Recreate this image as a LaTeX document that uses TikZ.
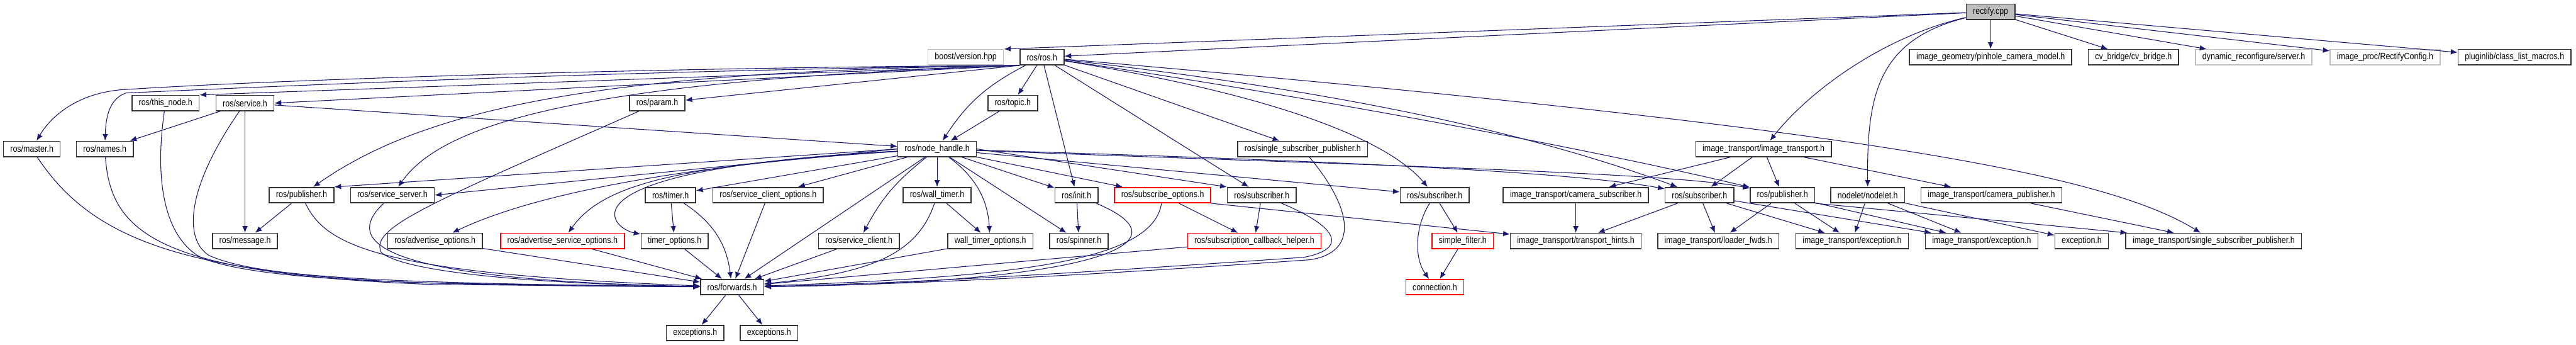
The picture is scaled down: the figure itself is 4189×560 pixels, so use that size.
\documentclass[tikz,border=0pt]{standalone}
\usepackage{fontspec}
\setmainfont{Liberation Sans}[FakeStretch=0.85]
\usetikzlibrary{arrows.meta}
\definecolor{edgeblue}{HTML}{191970}
\definecolor{framegray}{HTML}{BFBFBF}

\begin{document}
\begin{tikzpicture}[
    x=1pt, y=-1pt,
    >={Latex[length=11pt,width=9pt]},
    box/.style={
        draw=black!80,
        line width=1.6pt,
        minimum height=25pt,
        inner xsep=11pt,
        inner ysep=0pt,
        font=\fontsize{15}{17}\selectfont
    },
    redbox/.style={box, draw=red},
    graybox/.style={box, draw=framegray},
    arr/.style={->, line width=1.1pt, draw=edgeblue}
]
    \useasboundingbox (0,0) rectangle (4189,560);

    % top row
    \node[box, fill=framegray] (rectify) at (3237,19) {rectify.cpp};

    \node[graybox] (boost) at (1570.5,93) {boost/version.hpp};
    \node[box] (ros) at (1694.4,93) {ros/ros.h};
    \node[box] (pinhole) at (3237,93) {image\_geometry/pinhole\_camera\_model.h};
    \node[box] (cvbridge) at (3469.3,93) {cv\_bridge/cv\_bridge.h};
    \node[graybox] (dynrec) at (3665,93) {dynamic\_reconfigure/server.h};
    \node[graybox] (rectcfg) at (3878.6,93) {image\_proc/RectifyConfig.h};
    \node[box] (pluginlib) at (4089,93) {pluginlib/class\_list\_macros.h};

    \node[box] (thisnode) at (269.2,167.5) {ros/this\_node.h};
    \node[box] (service) at (398.4,167.5) {ros/service.h};
    \node[box] (param) at (1068.8,167.5) {ros/param.h};
    \node[box] (topic) at (1646.8,167.5) {ros/topic.h};

    \node[box] (master) at (51.8,242) {ros/master.h};
    \node[box] (names) at (170.5,242) {ros/names.h};
    \node[box] (nodehandle) at (1523.9,242) {ros/node\_handle.h};
    \node[box] (sspub) at (2118.3,242) {ros/single\_subscriber\_publisher.h};
    \node[box] (imgtrans) at (2867.8,242) {image\_transport/image\_transport.h};

    % middle rows
    \node[box] (publisher) at (490.4,317) {ros/publisher.h};
    \node[box] (srvserver) at (638.2,317) {ros/service\_server.h};
    \node[box] (timer) at (1090.3,317) {ros/timer.h};
    \node[box] (srvclientopts) at (1249,317) {ros/service\_client\_options.h};
    \node[box] (walltimer) at (1523.9,317) {ros/wall\_timer.h};
    \node[box] (init) at (1750.6,317) {ros/init.h};
    \node[redbox] (subopts) at (1890.6,317) {ros/subscribe\_options.h};
    \node[box] (subscrA) at (2051.8,317) {ros/subscriber.h};
    \node[box] (subscrB) at (2333,317) {ros/subscriber.h};
    \node[box] (camsub) at (2562.5,317) {image\_transport/camera\_subscriber.h};
    \node[box] (subscrC) at (2763.7,317) {ros/subscriber.h};
    \node[box] (pubB) at (2898.6,317) {ros/publisher.h};
    \node[box] (nodelet) at (3037.2,317) {nodelet/nodelet.h};
    \node[box] (campub) at (3238.3,317) {image\_transport/camera\_publisher.h};

    \node[box] (message) at (398.4,391.5) {ros/message.h};
    \node[box] (advopts) at (707.4,391.5) {ros/advertise\_options.h};
    \node[redbox] (advsrvopts) at (914.6,391.5) {ros/advertise\_service\_options.h};
    \node[box] (timeropts) at (1097,391.5) {timer\_options.h};
    \node[box] (srvclient) at (1396.8,391.5) {ros/service\_client.h};
    \node[box] (walltimeropts) at (1610.5,391.5) {wall\_timer\_options.h};
    \node[box] (spinner) at (1754.6,391.5) {ros/spinner.h};
    \node[redbox] (subcb) at (2039.7,391.5) {ros/subscription\_callback\_helper.h};
    \node[redbox] (simplefilter) at (2378.6,391.5) {simple\_filter.h};
    \node[box] (hints) at (2562.5,391.5) {image\_transport/transport\_hints.h};
    \node[box] (loader) at (2794.3,391.5) {image\_transport/loader\_fwds.h};
    \node[box] (itexcA) at (3011.8,391.5) {image\_transport/exception.h};
    \node[box] (itexcB) at (3222.5,391.5) {image\_transport/exception.h};
    \node[box] (exception) at (3385.1,391.5) {exception.h};
    \node[box] (itsspub) at (3599.8,391.5) {image\_transport/single\_subscriber\_publisher.h};

    % bottom rows
    \node[box] (forwards) at (1190.6,466.3) {ros/forwards.h};
    \node[redbox] (connection) at (2333.3,466.3) {connection.h};

    \node[box] (excA) at (1130.4,541) {exceptions.h};
    \node[box] (excB) at (1250.5,541) {exceptions.h};

    % rectify.cpp
    \draw[arr] (rectify) -- (boost.north east);
    \draw[arr] (rectify) -- (ros);
    \draw[arr] (rectify) -- (pinhole);
    \draw[arr] (rectify) -- (cvbridge);
    \draw[arr] (rectify) -- (dynrec);
    \draw[arr] (rectify) -- (rectcfg);
    \draw[arr] (rectify) -- (pluginlib);
    \draw[arr] (rectify) .. controls (3060,60) and (2940,150) .. (imgtrans);
    \draw[arr] (rectify) .. controls (3050,65) and (3036,160) .. (nodelet);

    % ros/ros.h
    \draw[arr] (ros.south west) .. controls (1000,110) and (400,132) .. (195,146)
        .. controls (130,152) and (85,185) .. (master);
    \draw[arr] (ros.south west) .. controls (1000,115) and (500,138) .. (205,151)
        .. controls (178,160) and (172,190) .. (names);
    \draw[arr] (ros.south west) -- (thisnode.north east);
    \draw[arr] (ros.south west) -- (service.east);
    \draw[arr] (ros.south west) -- (param);
    \draw[arr] (ros.south west) .. controls (1000,115) and (700,170) .. (publisher);
    \draw[arr] (ros.south west) .. controls (950,130) and (720,200) .. (srvserver);
    \draw[arr] (ros) to[bend right=15] (nodehandle);
    \draw[arr] (ros) -- (topic);
    \draw[arr] (ros) -- (init);
    \draw[arr] (ros) -- (subscrA);
    \draw[arr] (ros) -- (sspub);
    \draw[arr] (ros) .. controls (2050,150) and (2250,220) .. (subscrB);
    \draw[arr] (ros) .. controls (2200,150) and (2500,220) .. (subscrC);
    \draw[arr] (ros) .. controls (2150,160) and (2600,245) .. (pubB);
    \draw[arr] (ros) .. controls (3000,205) and (3420,280) .. (itsspub);

    \draw[arr] (topic) -- (nodehandle);
    \draw[arr] (service) -- (nodehandle);
    \draw[arr] (service) -- (names);
    \draw[arr] (service) -- (message);

    % ros/node_handle.h
    \draw[arr] (nodehandle.west) -- (publisher.north east);
    \draw[arr] (nodehandle.west) -- (srvserver.east);
    \draw[arr] (nodehandle) .. controls (1200,262) and (900,300) .. (advopts);
    \draw[arr] (nodehandle) .. controls (1100,268) and (980,300) .. (advsrvopts);
    \draw[arr] (nodehandle) .. controls (900,275) and (990,370) .. (timeropts);
    \draw[arr] (nodehandle) -- (timer);
    \draw[arr] (nodehandle) -- (srvclientopts);
    \draw[arr] (nodehandle) -- (forwards);
    \draw[arr] (nodehandle) to[bend right=12] (srvclient);
    \draw[arr] (nodehandle) -- (walltimer);
    \draw[arr] (nodehandle) to[bend left=25] (walltimeropts);
    \draw[arr] (nodehandle) -- (spinner);
    \draw[arr] (nodehandle) -- (init);
    \draw[arr] (nodehandle) -- (subopts);
    \draw[arr] (nodehandle.east) -- (subscrA.north west);
    \draw[arr] (nodehandle) -- (subscrB);
    \draw[arr] (nodehandle) .. controls (2200,262) and (2560,280) .. (subscrC);
    \draw[arr] (nodehandle) .. controls (2200,268) and (2720,280) .. (pubB);

    % into ros/forwards.h
    \draw[arr] (master) .. controls (150,390) and (300,445) .. (700,460) -- (forwards);
    \draw[arr] (names) .. controls (180,380) and (260,445) .. (700,462) -- (forwards);
    \draw[arr] (thisnode) .. controls (250,300) and (270,390) .. (330,420)
        .. controls (420,452) and (600,463) .. (forwards);
    \draw[arr] (service) .. controls (300,310) and (300,390) .. (340,415)
        .. controls (420,450) and (600,460) .. (forwards);
    \draw[arr] (publisher) .. controls (530,400) and (620,445) .. (forwards);
    \draw[arr] (srvserver) .. controls (560,390) and (600,455) .. (forwards);
    \draw[arr] (param) .. controls (700,330) and (600,370) .. (620,410)
        .. controls (660,445) and (900,462) .. (forwards);
    \draw[arr] (advopts) -- (forwards);
    \draw[arr] (advsrvopts) -- (forwards);
    \draw[arr] (timeropts) -- (forwards);
    \draw[arr] (timer) to[bend left=25] (forwards);
    \draw[arr] (srvclientopts) -- (forwards);
    \draw[arr] (srvclient) -- (forwards);
    \draw[arr] (walltimer) .. controls (1490,420) and (1400,445) .. (forwards);
    \draw[arr] (walltimeropts) -- (forwards);
    \draw[arr] (init) .. controls (1950,400) and (1750,460) .. (forwards);
    \draw[arr] (subopts) .. controls (1875,425) and (1650,450) .. (forwards);
    \draw[arr] (subscrA) .. controls (2180,370) and (2190,405) .. (2120,418)
        .. controls (1800,440) and (1500,460) .. (forwards);
    \draw[arr] (sspub) .. controls (2200,340) and (2210,410) .. (2130,422)
        .. controls (1800,445) and (1500,462) .. (forwards);
    \draw[arr] (subcb) -- (forwards);

    \draw[arr] (publisher) -- (message);
    \draw[arr] (timer) -- (timeropts);
    \draw[arr] (walltimer) -- (walltimeropts);
    \draw[arr] (init) -- (spinner);
    \draw[arr] (subopts) -- (subcb);
    \draw[arr] (subopts.south east) -- (hints);
    \draw[arr] (subscrA) -- (subcb);
    \draw[arr] (subscrB) -- (simplefilter);
    \draw[arr] (subscrB) .. controls (2300,370) and (2300,420) .. (connection);
    \draw[arr] (simplefilter) -- (connection);
    \draw[arr] (forwards) -- (excA);
    \draw[arr] (forwards) -- (excB);

    % image_transport side
    \draw[arr] (imgtrans) -- (camsub);
    \draw[arr] (imgtrans) -- (subscrC);
    \draw[arr] (imgtrans) -- (pubB);
    \draw[arr] (imgtrans) -- (campub);
    \draw[arr] (camsub) -- (hints);
    \draw[arr] (subscrC) -- (hints);
    \draw[arr] (subscrC) -- (loader);
    \draw[arr] (subscrC) -- (itexcA);
    \draw[arr] (subscrC) -- (itexcB);
    \draw[arr] (pubB) -- (loader);
    \draw[arr] (pubB) -- (itexcA);
    \draw[arr] (pubB) -- (itexcB);
    \draw[arr] (pubB.south east) -- (itsspub);
    \draw[arr] (nodelet) -- (itexcA);
    \draw[arr] (nodelet) -- (itexcB);
    \draw[arr] (nodelet) -- (exception);
    \draw[arr] (campub) -- (itsspub);
\end{tikzpicture}
\end{document}
